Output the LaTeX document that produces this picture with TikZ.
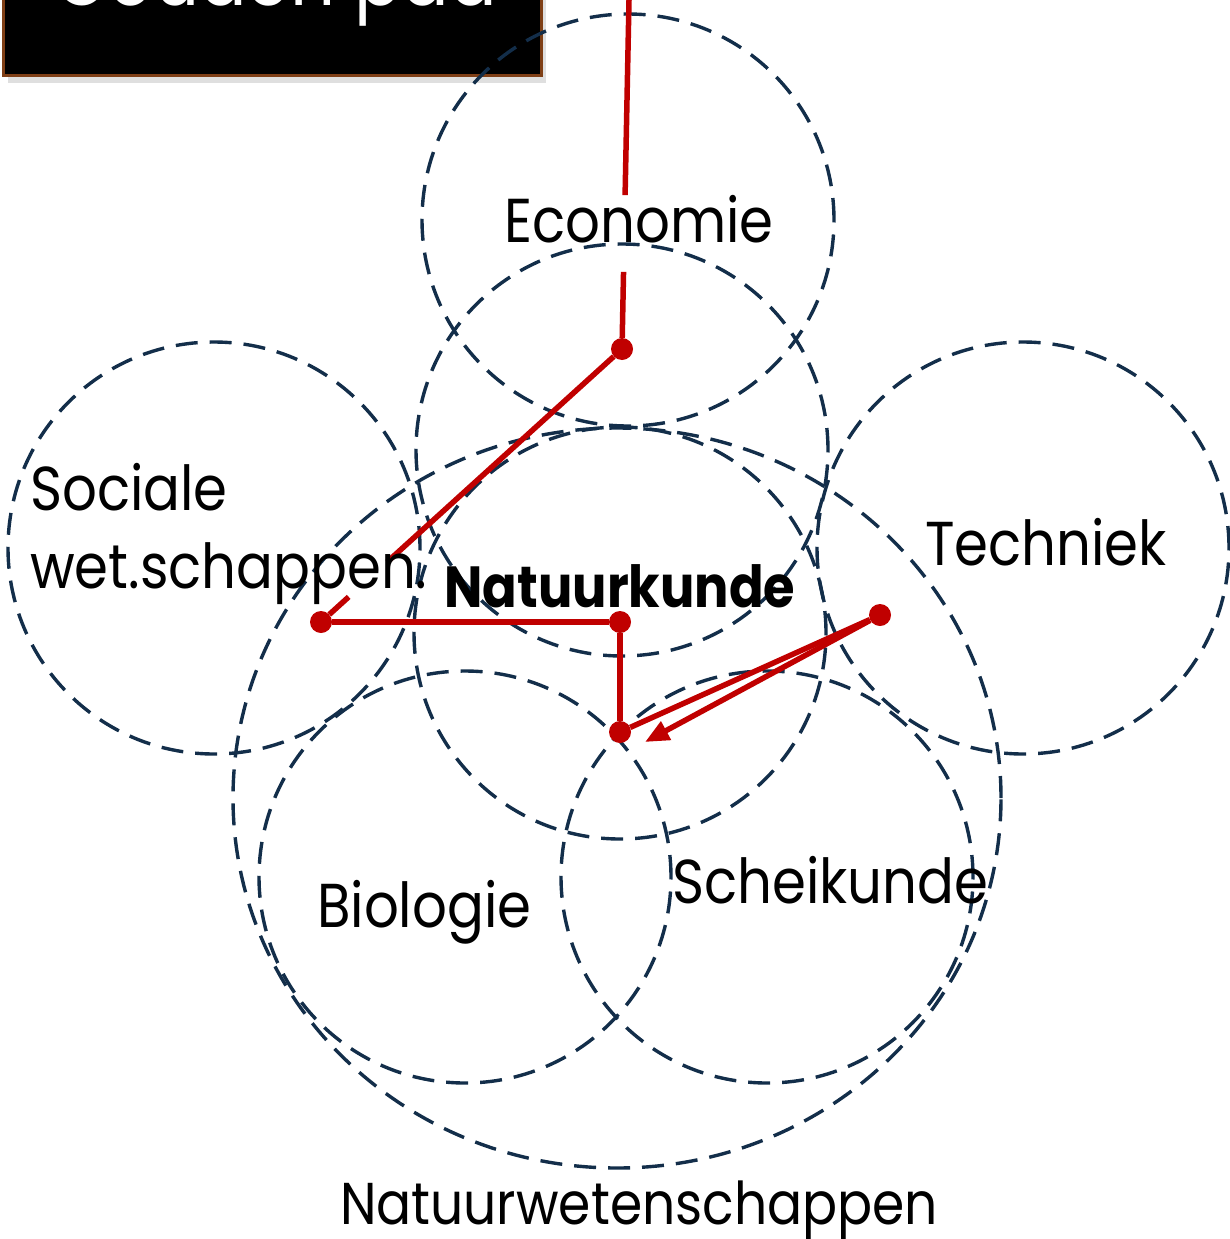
\documentclass[tikz,border=0pt]{standalone}
\usepackage{fontspec}
\setmainfont[FakeStretch=0.88]{Poppins}
\usetikzlibrary{calc,backgrounds,shapes.geometric,arrows.meta,shadows}

\definecolor{ringblue}{HTML}{132E4A}
\definecolor{padrood}{HTML}{C00000}
\definecolor{randbruin}{HTML}{7F3F16}

\begin{document}
\begin{tikzpicture}[x=1pt,y=-1pt]
 \tikzstyle{ring} = [draw=ringblue,line width=3.4pt,dash pattern=on 22pt off 12pt,inner sep=0pt];
 \tikzstyle{vak} = [circle,ring,minimum size=412pt];
 \tikzstyle{tekst} = [inner sep=0pt,font=\fontsize{62}{74}\selectfont];
 \tikzstyle{route} = [draw=padrood,line width=5.5pt];
 \tikzstyle{stip} = [circle,fill=padrood,inner sep=0pt,minimum size=22pt];
 \tikzstyle{arrow} = [route,-{Triangle[length=24pt,width=20pt]}];

 \useasboundingbox (0,0) rectangle (1229,1239);

 %% title box
 \node[draw=randbruin,line width=3pt,fill=black,minimum width=538pt,minimum height=160pt,
       anchor=south west,drop shadow={shadow xshift=5pt,shadow yshift=-8pt,opacity=0.25},
       name=titel] at (1.5,76.5) {};
 \node[tekst,anchor=base west,text=white,font=\fontsize{80}{90}\selectfont,name=titeltekst]
       at (54,6) {Gouden pad};

 %% circles
 \node[vak,name=eco]   at (628,220) {};
 \node[vak,name=nat1]  at (622,450) {};
 \node[vak,name=nat2]  at (620,633) {};
 \node[vak,name=soc]   at (214,548) {};
 \node[vak,name=tech]  at (1023,548) {};
 \node[vak,name=bio]   at (465,877) {};
 \node[vak,name=schei] at (767,877) {};
 \node[ellipse,ring,minimum width=768pt,minimum height=740pt,name=natw] at (617,798) {};

 %% route
 \coordinate (top) at (629.4,-20);
 \node[stip,name=d1] at (622,349) {};
 \node[stip,name=d2] at (321,622) {};
 \node[stip,name=d3] at (620,622) {};
 \node[stip,name=d4] at (620,732) {};
 \node[stip,name=d5] at (880,615) {};
 \coordinate (pijl) at (645,742);
 \coordinate (eco1) at ($(top)!0.583!(d1)$);
 \coordinate (eco2) at ($(top)!0.791!(d1)$);
 \coordinate (soc1) at ($(d1)!0.78!(d2)$);
 \coordinate (soc2) at ($(d1)!0.908!(d2)$);

 \draw[route] (top) -- (eco1);
 \draw[route] (eco2) -- (d1);
 \draw[route] (d1) -- (soc1);
 \draw[route] (soc2) -- (d2);
 \draw[route] (d2) -- (d3);
 \draw[route] (d3) -- (d4);
 \draw[route] (d4) -- (d5);
 \draw[arrow] (d5) -- (pijl);

 %% labels
 \node[tekst,anchor=base,name=tEco] at (639,242) {Economie};
 \node[tekst,anchor=base west,name=tSoc1] at (30,510) {Sociale};
 \node[tekst,anchor=base west,name=tSoc2] at (30,588) {wet.schappen.};
 \node[tekst,anchor=base west,name=tTech] at (925,565) {Techniek};
 \node[tekst,anchor=base,font=\fontsize{58}{70}\selectfont\bfseries,name=tNat] at (620,607) {Natuurkunde};
 \node[tekst,anchor=base west,name=tBio] at (317,927) {Biologie};
 \node[tekst,anchor=base west,name=tSchei] at (672,903) {Scheikunde};
 \node[tekst,anchor=base,font=\fontsize{59}{70}\selectfont,name=tNw] at (639,1224) {Natuurwetenschappen};

\end{tikzpicture}
\end{document}
